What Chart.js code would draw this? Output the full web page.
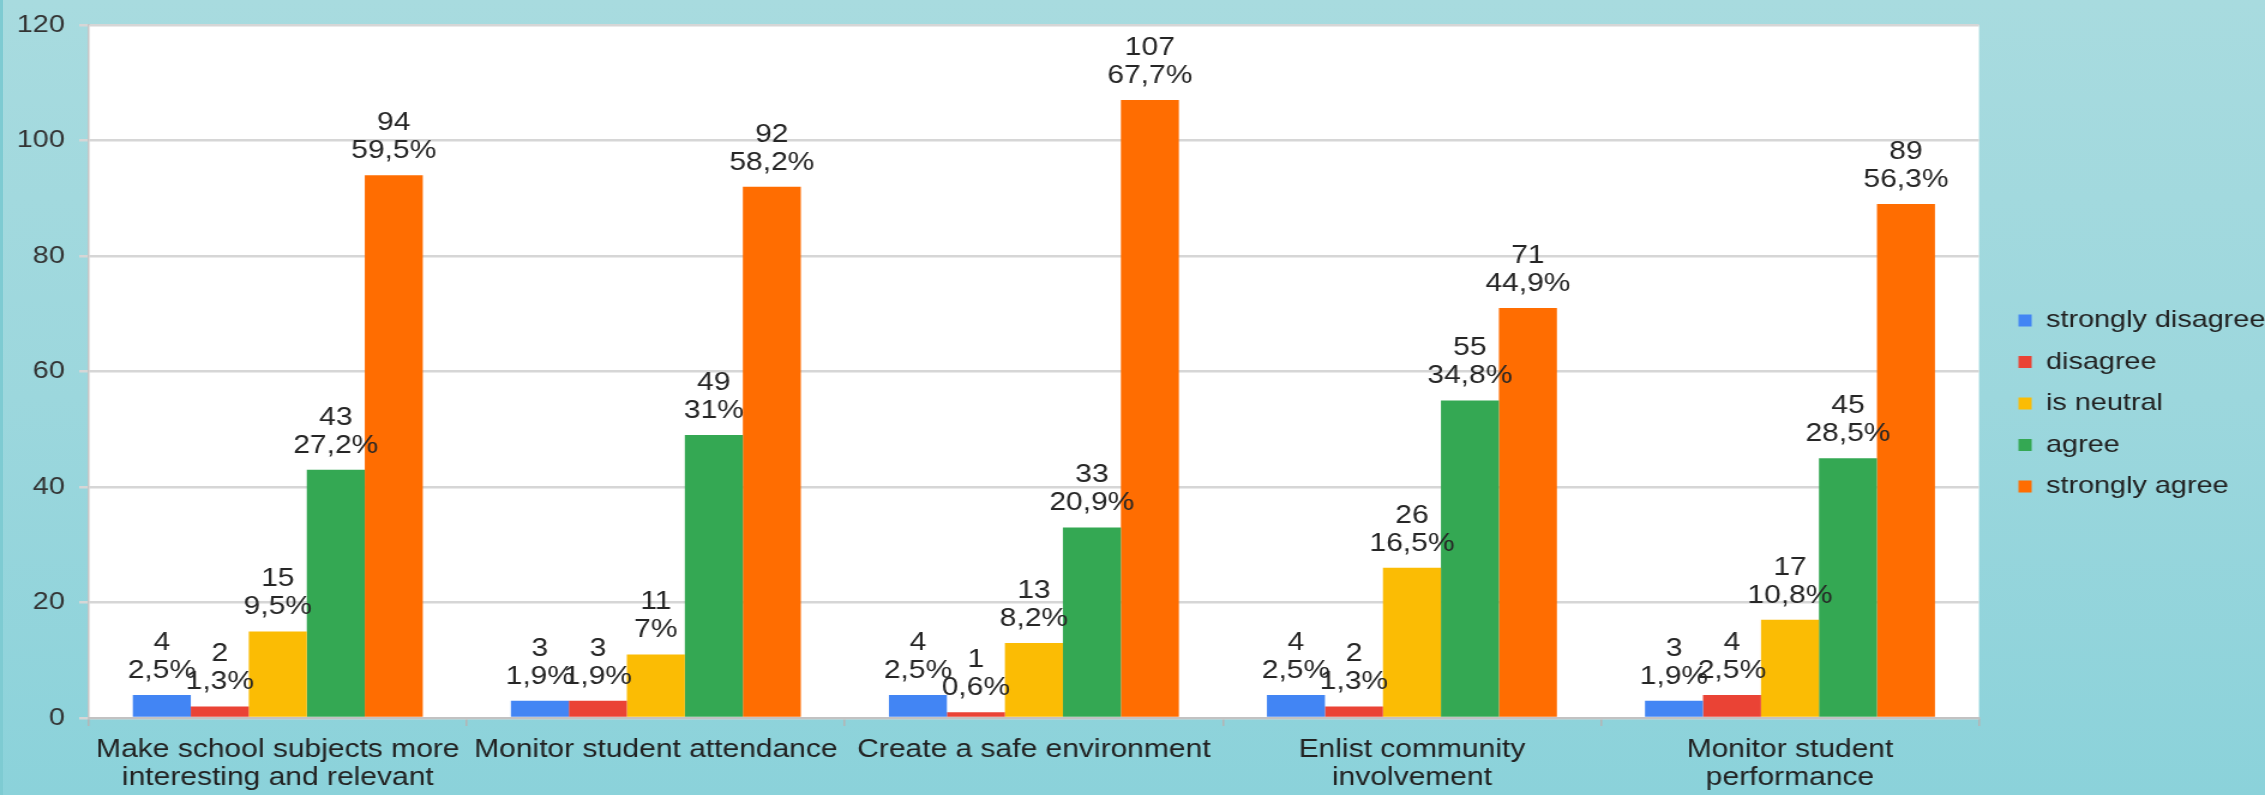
<!DOCTYPE html>
<html>
<head>
<meta charset="utf-8">
<script src="https://cdn.jsdelivr.net/npm/chart.js@4"></script>
<style>
html, body { margin:0; padding:0; width:2265px; height:795px; overflow:hidden; }
body { background: linear-gradient(to bottom, #a8dbdf 0%, #9cd7dd 50%, #8bd2da 100%); box-shadow: inset 3px 0 0 #7ecbd2; }
#wrap { position:absolute; left:0; top:0; width:1888px; height:795px; transform-origin:0 0; transform:scaleX(1.19968); }
canvas { display:block; }
</style>
</head>
<body>
<div id="wrap"><canvas id="c" width="1888" height="795" style="width:1888px;height:795px"></canvas></div>
<script>
// ---- data ----
const categories = [
  ['Make school subjects more', 'interesting and relevant'],
  'Monitor student attendance',
  'Create a safe environment',
  ['Enlist community', 'involvement'],
  ['Monitor student', 'performance']
];
const seriesNames = ['strongly disagree', 'disagree', 'is neutral', 'agree', 'strongly agree'];
const stronglyDisagree = [4, 3, 4, 4, 3];
const disagree         = [2, 3, 1, 2, 4];
const isNeutral        = [15, 11, 13, 26, 17];
const agree            = [43, 49, 33, 55, 45];
const stronglyAgree    = [94, 92, 107, 71, 89];
const pctStronglyDisagree = ['2,5%', '1,9%', '2,5%', '2,5%', '1,9%'];
const pctDisagree         = ['1,3%', '1,9%', '0,6%', '1,3%', '2,5%'];
const pctIsNeutral        = ['9,5%', '7%', '8,2%', '16,5%', '10,8%'];
const pctAgree            = ['27,2%', '31%', '20,9%', '34,8%', '28,5%'];
const pctStronglyAgree    = ['59,5%', '58,2%', '67,7%', '44,9%', '56,3%'];
const yMin = 0, yMax = 120, yStep = 20;

const seriesValues = [stronglyDisagree, disagree, isNeutral, agree, stronglyAgree];
const seriesPct = [pctStronglyDisagree, pctDisagree, pctIsNeutral, pctAgree, pctStronglyAgree];
const seriesColors = ['#4285f4', '#ea4335', '#fbbc04', '#34a853', '#ff6d01'];
const FONT = '"Liberation Sans", Arial, sans-serif';

const plotBg = {
  id: 'plotBg',
  beforeDraw(chart) {
    const { ctx, chartArea: a } = chart;
    ctx.save();
    ctx.fillStyle = '#ffffff';
    ctx.fillRect(a.left, a.top, a.right - a.left, a.bottom - a.top);
    ctx.restore();
  }
};

const valueLabels = {
  id: 'valueLabels',
  afterDatasetsDraw(chart) {
    const ctx = chart.ctx;
    ctx.save();
    ctx.font = '25px ' + FONT;
    ctx.fillStyle = '#262626';
    ctx.textAlign = 'center';
    ctx.textBaseline = 'middle';
    chart.data.datasets.forEach((ds, i) => {
      const meta = chart.getDatasetMeta(i);
      meta.data.forEach((bar, j) => {
        ctx.fillText(String(ds.data[j]), bar.x, bar.y - 52);
        ctx.fillText(seriesPct[i][j], bar.x, bar.y - 24);
      });
    });
    ctx.restore();
  }
};

new Chart(document.getElementById('c'), {
  type: 'bar',
  data: {
    labels: categories,
    datasets: seriesNames.map((name, i) => ({
      label: name,
      data: seriesValues[i],
      backgroundColor: seriesColors[i],
      borderWidth: 0,
      barPercentage: 1,
      categoryPercentage: 0.767
    }))
  },
  options: {
    responsive: false,
    animation: false,
    layout: { padding: { top: 12, left: 0, right: 0, bottom: 0 } },
    plugins: {
      legend: {
        position: 'right',
        align: 'center',
        maxWidth: 223,
        labels: {
          boxWidth: 11,
          boxHeight: 12,
          padding: 17.5,
          color: '#222222',
          font: { family: FONT, size: 24 }
        }
      },
      tooltip: { enabled: false }
    },
    scales: {
      x: {
        position: 'bottom',
        offset: true,
        grid: { display: true, drawOnChartArea: false, drawTicks: true, tickLength: 8, color: '#b5b5b5', lineWidth: 1.5, offset: true },
        border: { display: true, color: '#c2c2c2', width: 2 },
        ticks: { color: '#222222', font: { family: FONT, size: 25, lineHeight: 1.12 }, padding: 10, maxRotation: 0, minRotation: 0, autoSkip: false },
        afterFit(s) { s.height = 77; }
      },
      y: {
        position: 'left',
        min: yMin,
        max: yMax,
        ticks: { stepSize: yStep, color: '#333333', font: { family: FONT, size: 24, lineHeight: 1 }, padding: 12 },
        grid: { color: '#d6d6d6', lineWidth: 2.5, tickLength: 8, drawTicks: true },
        border: { display: true, color: '#c4c4c4', width: 1.5 },
        afterFit(s) { s.width = 74; }
      },
      xTop: {
        type: 'category', axis: 'x', position: 'top', display: true,
        grid: { display: false }, border: { display: false }, ticks: { display: false },
        afterFit(s) { s.height = 13; }
      },
      yRight: {
        type: 'linear', axis: 'y', position: 'right', display: true,
        grid: { display: false }, border: { display: false }, ticks: { display: false },
        afterFit(s) { s.width = 15.4; }
      }
    }
  },
  plugins: [plotBg, valueLabels]
});
</script>
</body>
</html>
